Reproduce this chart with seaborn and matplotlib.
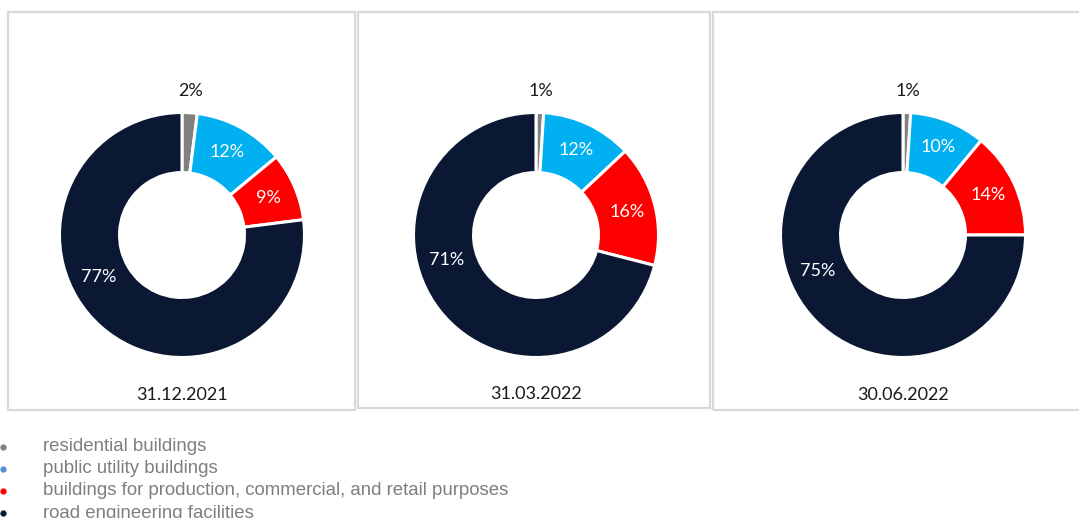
import numpy as np
import matplotlib
matplotlib.use("Agg")
import matplotlib.pyplot as plt
from matplotlib.patches import Rectangle
from matplotlib.lines import Line2D
import seaborn as sns

# Structure of the portfolio by building type at three reporting dates
categories = [
    "residential buildings",
    "public utility buildings",
    "buildings for production, commercial, and retail purposes",
    "road engineering facilities",
]
dates = ["31.12.2021", "31.03.2022", "30.06.2022"]
share_2021_12 = [2, 12, 9, 77]
share_2022_03 = [1, 12, 16, 71]
share_2022_06 = [1, 10, 14, 75]

slice_colors = ["#808080", "#00B0F0", "#FF0000", "#0A1834"]
legend_colors = ["#808080", "#4F8FD6", "#FF0000", "#0A1834"]

sns.set_theme(style="white")
plt.rcParams["font.family"] = ["Lato", "DejaVu Sans"]

W, H = 1079, 518
fig = plt.figure(figsize=(W / 100, H / 100), dpi=100)
fig.patch.set_facecolor("white")


def fx(px):
    return px / W


def fy(py):
    return 1 - py / H


# panel frames (pixel boxes: left, top, right, bottom)
frames = [(8, 12, 355, 410), (358, 12, 710, 408), (713, 12, 1090, 410)]
for l, t, r, b in frames:
    fig.add_artist(Rectangle((fx(l), fy(b)), fx(r - l), (b - t) / H,
                             transform=fig.transFigure, fill=False,
                             edgecolor="#D9D9D9", linewidth=1.6))

centers = [(182, 235), (536, 235), (903, 235)]
date_y = [395, 394, 395]
series = [share_2021_12, share_2022_03, share_2022_06]

R_PX = 122.5
LIM = 1.25
half = R_PX * LIM
width = 0.49

for (cx, cy), vals, date, dy in zip(centers, series, dates, date_y):
    ax = fig.add_axes([fx(cx - half), fy(cy + half), 2 * half / W, 2 * half / H])
    wedges, _ = ax.pie(vals, colors=slice_colors, startangle=90, counterclock=False,
                       radius=1.0,
                       wedgeprops=dict(width=width, edgecolor="white", linewidth=2.2))
    ax.set_xlim(-LIM, LIM)
    ax.set_ylim(-LIM, LIM)
    ax.set_aspect("equal")
    ax.axis("off")

    total = float(sum(vals))
    cum = 0.0
    for i, v in enumerate(vals):
        mid = (cum + v / 2) / total * 360.0
        cum += v
        if v < 5:
            r, col = 1.18, "#1A1A1A"
        elif v > 50:
            # keep the dominant slice's label on the left side of the ring
            mid += 22
            r, col = 0.76, "white"
        else:
            r, col = 0.77, "white"
        theta = np.deg2rad(90 - mid)
        ax.text(r * np.cos(theta), r * np.sin(theta), f"{v}%",
                ha="center", va="center", fontsize=13, color=col)

    fig.text(fx(cx), fy(dy), date, ha="center", va="center",
             fontsize=13, color="#1A1A1A")

# legend list under the panels
for i, (cat, col) in enumerate(zip(categories, legend_colors)):
    yy = 446.5 + i * 22.2
    fig.add_artist(Line2D([fx(3)], [fy(yy)], marker="o", markersize=3.5,
                          color=col, linestyle="none",
                          transform=fig.transFigure))
    fig.text(fx(43), fy(yy), cat, ha="left", va="center", fontsize=13.4,
             color="#7F7F7F", family=["Liberation Sans", "DejaVu Sans"])

fig.savefig("out.png", dpi=100, facecolor="white")
